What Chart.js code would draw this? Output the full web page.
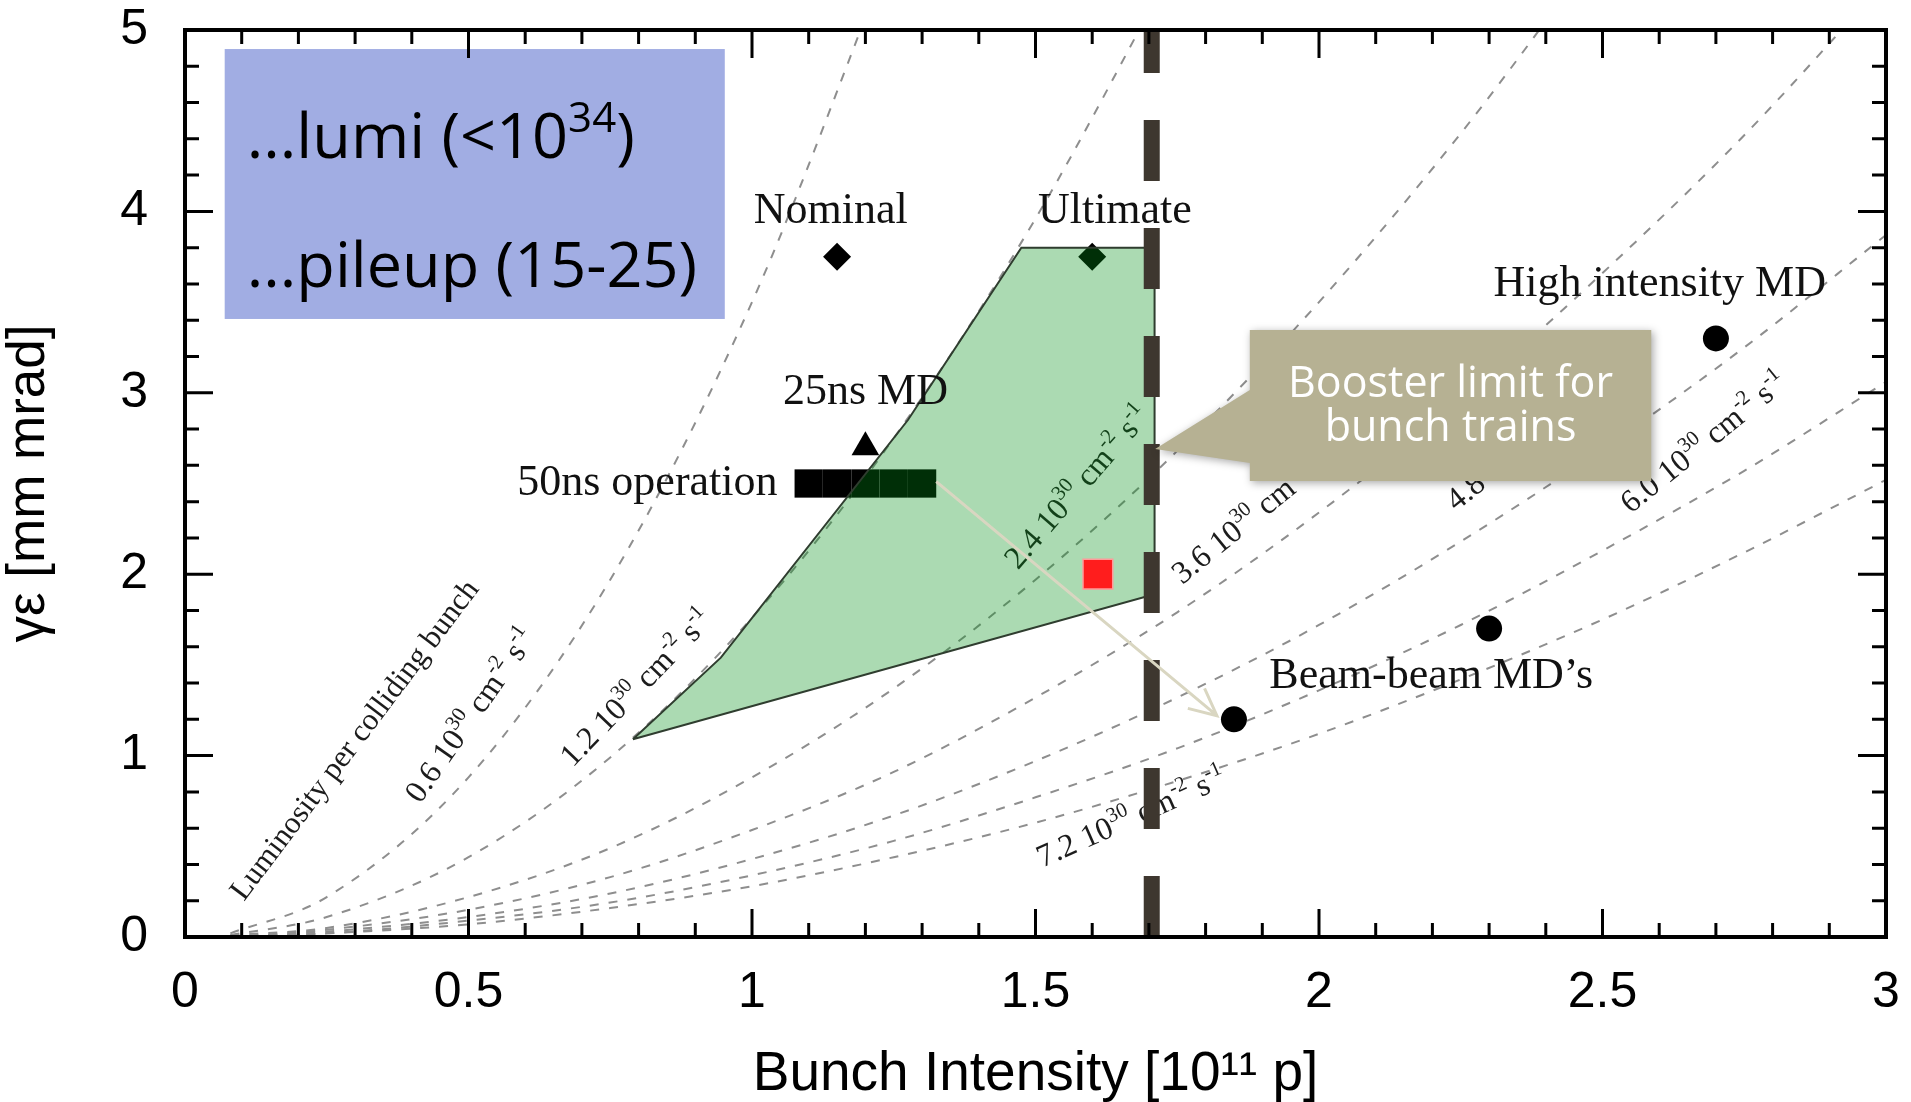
<!DOCTYPE html>
<html>
<head>
<meta charset="utf-8">
<title>Bunch intensity vs emittance</title>
<script src="https://cdn.jsdelivr.net/npm/chart.js@4.4.1/dist/chart.umd.min.js"></script>
<style>
  body { margin: 0; background: #fff; }
  canvas { display: block; }
</style>
</head>
<body>
<canvas id="emittance-chart" width="1911" height="1102"></canvas>
<script>
// luminosity per colliding bunch lines (10^30 cm^-2 s^-1)
const lumiNames = ['0.6', '1.2', '2.4', '3.6', '4.8', '6.0', '7.2'];
const lumiX = [0.08, 0.25, 0.5, 0.75, 1.0, 1.25, 1.5, 1.75, 2.0, 2.25, 2.5, 2.75, 3.0];
const lumi06 = [0.02, 0.22, 0.88, 1.97, 3.5, 5.47];
const lumi12 = [0.01, 0.11, 0.44, 0.99, 1.76, 2.75, 3.96, 5.39];
const lumi24 = [0.01, 0.05, 0.22, 0.49, 0.88, 1.37, 1.97, 2.68, 3.5, 4.43, 5.47];
const lumi36 = [0.0, 0.04, 0.15, 0.33, 0.59, 0.91, 1.32, 1.79, 2.34, 2.96, 3.66, 4.42, 5.27];
const lumi48 = [0.0, 0.03, 0.11, 0.24, 0.43, 0.67, 0.97, 1.32, 1.72, 2.18, 2.69, 3.25, 3.87];
const lumi60 = [0.0, 0.02, 0.09, 0.19, 0.34, 0.53, 0.77, 1.04, 1.36, 1.72, 2.13, 2.57, 3.06];
const lumi72 = [0.0, 0.02, 0.07, 0.16, 0.28, 0.44, 0.63, 0.86, 1.12, 1.42, 1.75, 2.12, 2.52];

// operating points
const nominal = {x: 1.15, y: 3.75};
const ultimate = {x: 1.6, y: 3.75};
const md25ns = {x: 1.2, y: 2.7};
const op50nsX = [1.10, 1.15, 1.20, 1.25, 1.30];
const op50nsY = 2.5;
const newPoint = {x: 1.61, y: 2.0};
const beamBeamX = [1.85, 2.30];
const beamBeamY = [1.2, 1.7];
const highIntensity = {x: 2.70, y: 3.30};

// reachable region and booster limit
const regionX = [0.79, 0.945, 1.275, 1.475, 1.71, 1.71, 0.79];
const regionY = [1.09, 1.54, 2.85, 3.80, 3.80, 1.89, 1.09];
const boosterLimitX = 1.705;

// tick labels
const xTickLabels = ['0', '0.5', '1', '1.5', '2', '2.5', '3'];
const yTickLabels = ['0', '1', '2', '3', '4', '5'];

const SERIF = '"Liberation Serif", "Times New Roman", serif';
const SANS = '"Liberation Sans", Arial, sans-serif';
const CALLOUT = '"Open Sans", sans-serif';

// where the annotation texts sit (data coordinates)
const lumiLabelPos = [
  {x: 0.415, y: 0.731, a: -55},
  {x: 0.684, y: 0.932, a: -46},
  {x: 1.469, y: 2.021, a: -49},
  {x: 1.759, y: 1.941, a: -39},
  {x: 2.242, y: 2.344, a: -39},
  {x: 2.55, y: 2.331, a: -39},
  {x: 1.512, y: 0.382, a: -24}
];
const pointLabels = [
  {text: 'Nominal', x: 1.139, y: 4.0, align: 'center'},
  {text: 'Ultimate', x: 1.64, y: 4.0, align: 'center'},
  {text: '25ns MD', x: 1.2, y: 3.0, align: 'center'},
  {text: '50ns operation', x: 1.045, y: 2.5, align: 'right'},
  {text: 'High intensity MD', x: 2.601, y: 3.60, align: 'center'},
  {text: 'Beam-beam MD\u2019s', x: 2.198, y: 1.437, align: 'center'}
];
const arrow = {from: {x: 1.325, y: 2.51}, to: {x: 1.82, y: 1.22}};
const noteBox = {x0: 0.07, x1: 0.952, y0: 4.895, y1: 3.407};
const callout = {x0: 1.878, x1: 2.586, y0: 3.346, y1: 2.514, tipX: 1.711, tipY: 2.69, baseTop: 3.015, baseBottom: 2.613};

function lumiParts(name) {
  return [
    {t: name + ' 10'}, {t: '30', sup: true}, {t: ' cm'}, {t: '-2', sup: true}, {t: ' s'}, {t: '-1', sup: true}
  ];
}

function drawRich(ctx, parts, px, py, angle, size, color, family) {
  ctx.save();
  ctx.translate(px, py);
  ctx.rotate(angle * Math.PI / 180);
  ctx.fillStyle = color;
  ctx.textBaseline = 'alphabetic';
  ctx.textAlign = 'left';
  let cx = 0;
  parts.forEach(p => {
    const s = p.sup ? Math.round(size * 0.66) : size;
    ctx.font = s + 'px ' + family;
    ctx.fillText(p.t, cx, p.sup ? -size * 0.42 : 0);
    cx += ctx.measureText(p.t).width;
  });
  ctx.restore();
}

const overlay = {
  id: 'overlay',
  beforeDatasetsDraw(chart) {
    const {ctx, scales: {x, y}} = chart;
    lumiNames.forEach((name, i) => {
      const p = lumiLabelPos[i];
      drawRich(ctx, lumiParts(name), x.getPixelForValue(p.x), y.getPixelForValue(p.y), p.a, 32, '#1c1c1c', SERIF);
    });
    drawRich(ctx, [{t: 'Luminosity per colliding bunch'}], x.getPixelForValue(0.104), y.getPixelForValue(0.193), -53, 31, '#1c1c1c', SERIF);
  },
  afterDatasetsDraw(chart) {
    const {ctx, scales: {x, y}} = chart;
    ctx.save();

    // arrow from the 50ns bar to the beam-beam point
    const ax0 = x.getPixelForValue(arrow.from.x), ay0 = y.getPixelForValue(arrow.from.y);
    const ax1 = x.getPixelForValue(arrow.to.x), ay1 = y.getPixelForValue(arrow.to.y);
    const ang = Math.atan2(ay1 - ay0, ax1 - ax0);
    ctx.strokeStyle = '#d9d6c1';
    ctx.lineWidth = 3;
    ctx.beginPath();
    ctx.moveTo(ax0, ay0);
    ctx.lineTo(ax1, ay1);
    ctx.moveTo(ax1 - 30 * Math.cos(ang - 0.45), ay1 - 30 * Math.sin(ang - 0.45));
    ctx.lineTo(ax1, ay1);
    ctx.lineTo(ax1 - 30 * Math.cos(ang + 0.45), ay1 - 30 * Math.sin(ang + 0.45));
    ctx.stroke();

    // labels next to the points
    ctx.fillStyle = '#111';
    ctx.font = '44px ' + SERIF;
    ctx.textBaseline = 'middle';
    pointLabels.forEach(l => {
      ctx.textAlign = l.align;
      ctx.fillText(l.text, x.getPixelForValue(l.x), y.getPixelForValue(l.y));
    });

    // blue note box
    const bx0 = x.getPixelForValue(noteBox.x0), bx1 = x.getPixelForValue(noteBox.x1);
    const by0 = y.getPixelForValue(noteBox.y0), by1 = y.getPixelForValue(noteBox.y1);
    ctx.fillStyle = '#a1ade3';
    ctx.fillRect(bx0, by0, bx1 - bx0, by1 - by0);
    drawRich(ctx, [{t: '...lumi (<10'}, {t: '34', sup: true}, {t: ')'}], bx0 + 22, by0 + 109, 0, 63, '#000', CALLOUT);
    drawRich(ctx, [{t: '...pileup (15-25)'}], bx0 + 22, by0 + 238, 0, 63, '#000', CALLOUT);

    // booster callout
    const cx0 = x.getPixelForValue(callout.x0), cx1 = x.getPixelForValue(callout.x1);
    const cy0 = y.getPixelForValue(callout.y0), cy1 = y.getPixelForValue(callout.y1);
    ctx.save();
    ctx.shadowColor = 'rgba(0,0,0,0.35)';
    ctx.shadowBlur = 8;
    ctx.shadowOffsetX = 2;
    ctx.shadowOffsetY = 2;
    ctx.fillStyle = '#b6b193';
    ctx.beginPath();
    ctx.moveTo(cx0, cy0);
    ctx.lineTo(cx1, cy0);
    ctx.lineTo(cx1, cy1);
    ctx.lineTo(cx0, cy1);
    ctx.lineTo(cx0, y.getPixelForValue(callout.baseBottom));
    ctx.lineTo(x.getPixelForValue(callout.tipX), y.getPixelForValue(callout.tipY));
    ctx.lineTo(cx0, y.getPixelForValue(callout.baseTop));
    ctx.closePath();
    ctx.fill();
    ctx.restore();
    ctx.fillStyle = '#fff';
    ctx.font = '43px ' + CALLOUT;
    ctx.textAlign = 'center';
    ctx.textBaseline = 'alphabetic';
    ctx.fillText('Booster limit for', (cx0 + cx1) / 2, cy0 + 67);
    ctx.fillText('bunch trains', (cx0 + cx1) / 2, cy0 + 111);

    ctx.restore();
  },
  afterDraw(chart) {
    // frame with inward ticks on all four sides
    const {ctx, chartArea: a, scales: {x, y}} = chart;
    ctx.save();
    ctx.strokeStyle = '#000';
    ctx.lineWidth = 3;
    ctx.beginPath();
    x.ticks.forEach(t => {
      const px = x.getPixelForValue(t.value);
      const len = t.label ? 28 : 14;
      ctx.moveTo(px, a.bottom); ctx.lineTo(px, a.bottom - len);
      ctx.moveTo(px, a.top); ctx.lineTo(px, a.top + len);
    });
    y.ticks.forEach(t => {
      const py = y.getPixelForValue(t.value);
      const len = t.label ? 28 : 14;
      ctx.moveTo(a.left, py); ctx.lineTo(a.left + len, py);
      ctx.moveTo(a.right, py); ctx.lineTo(a.right - len, py);
    });
    ctx.stroke();
    ctx.lineWidth = 4;
    ctx.strokeRect(a.left, a.top, a.right - a.left, a.bottom - a.top);
    ctx.restore();
  }
};

const lumiSets = [lumi06, lumi12, lumi24, lumi36, lumi48, lumi60, lumi72].map((vals, i) => ({
  label: lumiNames[i] + ' 10^30 cm^-2 s^-1',
  data: vals.map((v, j) => ({x: lumiX[j], y: v})),
  showLine: true,
  borderColor: '#8e8e8e',
  borderWidth: 2,
  borderDash: [9, 10],
  pointRadius: 0,
  cubicInterpolationMode: 'monotone',
  fill: false,
  order: 10
}));

const data = {
  datasets: [
    ...lumiSets,
    {
      label: 'Nominal / Ultimate',
      data: [nominal, ultimate],
      pointStyle: 'rectRot',
      pointRadius: 14,
      backgroundColor: '#000',
      borderWidth: 0,
      order: 8
    },
    {
      label: '25ns MD',
      data: [md25ns],
      pointStyle: 'triangle',
      pointRadius: 16,
      backgroundColor: '#000',
      borderWidth: 0,
      order: 8
    },
    {
      label: '50ns operation',
      data: op50nsX.map(v => ({x: v, y: op50nsY})),
      pointStyle: 'rect',
      pointRadius: 20,
      backgroundColor: '#000',
      borderWidth: 0,
      order: 8
    },
    {
      label: 'region',
      data: regionX.map((v, i) => ({x: v, y: regionY[i]})),
      showLine: true,
      fill: 'shape',
      backgroundColor: 'rgba(0,143,22,0.33)',
      borderColor: '#2f3d2f',
      borderWidth: 2,
      pointRadius: 0,
      tension: 0,
      order: 5
    },
    {
      label: 'Booster limit',
      data: [{x: boosterLimitX, y: 0}, {x: boosterLimitX, y: 5}],
      showLine: true,
      borderColor: '#3e372f',
      borderWidth: 16,
      borderDash: [61, 47],
      borderCapStyle: 'butt',
      pointRadius: 0,
      order: 4
    },
    {
      label: 'new point',
      data: [newPoint],
      pointStyle: 'rect',
      pointRadius: 21,
      backgroundColor: '#ff1d1d',
      borderColor: '#ff9a9a',
      borderWidth: 1.5,
      order: 3
    },
    {
      label: 'MDs',
      data: beamBeamX.map((v, i) => ({x: v, y: beamBeamY[i]})).concat([highIntensity]),
      pointStyle: 'circle',
      pointRadius: 13,
      backgroundColor: '#000',
      borderWidth: 0,
      order: 3
    }
  ]
};

const config = {
  type: 'scatter',
  data: data,
  plugins: [overlay],
  options: {
    responsive: false,
    devicePixelRatio: 1,
    animation: false,
    events: [],
    layout: { padding: { left: 0, right: 25, top: 30, bottom: 0 } },
    plugins: {
      legend: { display: false },
      tooltip: { enabled: false }
    },
    scales: {
      x: {
        type: 'linear',
        min: 0,
        max: 3,
        grid: { display: false },
        border: { display: false },
        ticks: {
          stepSize: 0.1,
          autoSkip: false,
          maxRotation: 0,
          padding: 18,
          color: '#000',
          font: { family: SANS, size: 50 },
          callback: v => {
            const s = String(+(+v).toFixed(2));
            return xTickLabels.includes(s) ? s : '';
          }
        },
        title: {
          display: true,
          text: 'Bunch Intensity [10\u00b9\u00b9 p]',
          color: '#000',
          font: { family: SANS, size: 55, lineHeight: 1 },
          padding: { top: 0, bottom: 0 }
        },
        afterFit: scale => {
          scale.height = 165;
          scale.paddingLeft = 0;
          scale.paddingRight = 0;
        }
      },
      y: {
        type: 'linear',
        min: 0,
        max: 5,
        grid: { display: false },
        border: { display: false },
        ticks: {
          stepSize: 0.2,
          autoSkip: false,
          padding: 29,
          color: '#000',
          font: { family: SANS, size: 50 },
          callback: v => {
            const s = String(+(+v).toFixed(2));
            return yTickLabels.includes(s) ? s : '';
          }
        },
        title: {
          display: true,
          text: '\u03b3\u03b5 [mm mrad]',
          color: '#000',
          font: { family: SANS, size: 53, lineHeight: 1 },
          padding: { top: 3, bottom: 0 }
        },
        afterFit: scale => {
          scale.width = 185;
          scale.paddingTop = 0;
          scale.paddingBottom = 0;
        }
      }
    }
  }
};

window.addEventListener('load', () => {
  const ctx = document.getElementById('emittance-chart').getContext('2d');
  new Chart(ctx, config);
});
</script>
</body>
</html>
